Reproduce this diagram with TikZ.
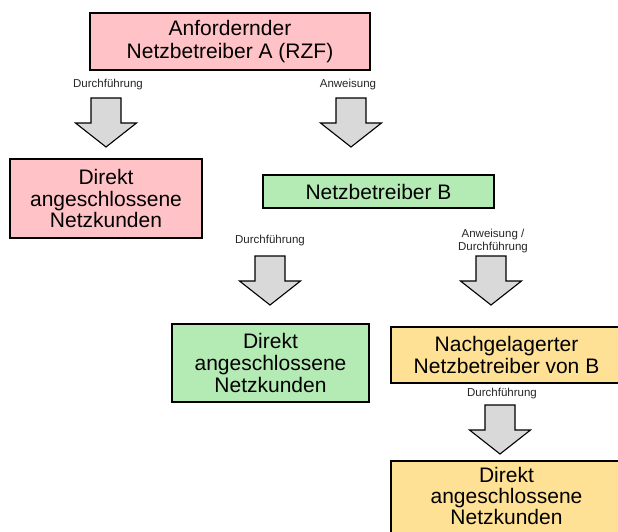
\documentclass[tikz,border=0pt]{standalone}
\usepackage{fontspec}
\setmainfont{Liberation Sans}
\definecolor{boxpink}{HTML}{FFC2C6}
\definecolor{boxgreen}{HTML}{B4EAB4}
\definecolor{boxyellow}{HTML}{FFE196}
\definecolor{arrgray}{HTML}{D9D9D9}
\tikzset{
  box/.style={draw=black, line width=1.4pt, align=center, inner sep=0pt,
    font=\fontsize{21}{21.7}\selectfont},
  lbl/.style={align=center, inner sep=0pt, text=black!85,
    font=\fontsize{11.5}{12.5}\selectfont},
  blockarrow/.style={fill=arrgray, draw=black, line width=1.1pt, line join=miter}
}
\newcommand\myblockarrow[2]{%
  \draw[blockarrow, shift={(#1,#2)}]
    (-15,0) -- (15,0) -- (15,25) -- (30.5,25) -- (0,49) -- (-30.5,25) -- (-15,25) -- cycle;
}
\begin{document}
\begin{tikzpicture}[x=1pt, y=-1pt]
\useasboundingbox (0,0) rectangle (618,531);
\clip (0,0) rectangle (618,531);
\fill[white] (0,0) rectangle (618,531);

% boxes
\node[box, fill=boxpink, minimum width=280pt, minimum height=57pt,
      font=\fontsize{21}{23}\selectfont] (A) at (230,41.5)
  {Anfordernder\\Netzbetreiber A (RZF)};
\node[box, fill=boxpink, minimum width=192pt, minimum height=79pt] (DA) at (106,198.5)
  {Direkt\\angeschlossene\\Netzkunden};
\node[box, fill=boxgreen, minimum width=231pt, minimum height=33pt] (B) at (378.5,191.5)
  {Netzbetreiber B};
\node[box, fill=boxgreen, minimum width=197pt, minimum height=78pt] (DB) at (270.5,363)
  {Direkt\\angeschlossene\\Netzkunden};
\node[box, fill=boxyellow, minimum width=231pt, minimum height=56pt] (N) at (506.5,355)
  {Nachgelagerter\\Netzbetreiber von B};
\node[box, fill=boxyellow, minimum width=231pt, minimum height=76pt, text depth=7pt,
      font=\fontsize{21}{21}\selectfont] (DN) at (506.5,499)
  {Direkt\\angeschlossene\\Netzkunden};

% labels
\node[lbl] (l1) at (108,85) {Durchführung};
\node[lbl] (l2) at (348,85) {Anweisung};
\node[lbl] (l3) at (270,241) {Durchführung};
\node[lbl] (l4) at (493,241) {Anweisung /\\Durchführung};
\node[lbl] (l5) at (502,394) {Durchführung};

% block arrows
\myblockarrow{106}{98}
\myblockarrow{351}{98}
\myblockarrow{270}{256}
\myblockarrow{491}{256}
\myblockarrow{500}{405}
\end{tikzpicture}
\end{document}
